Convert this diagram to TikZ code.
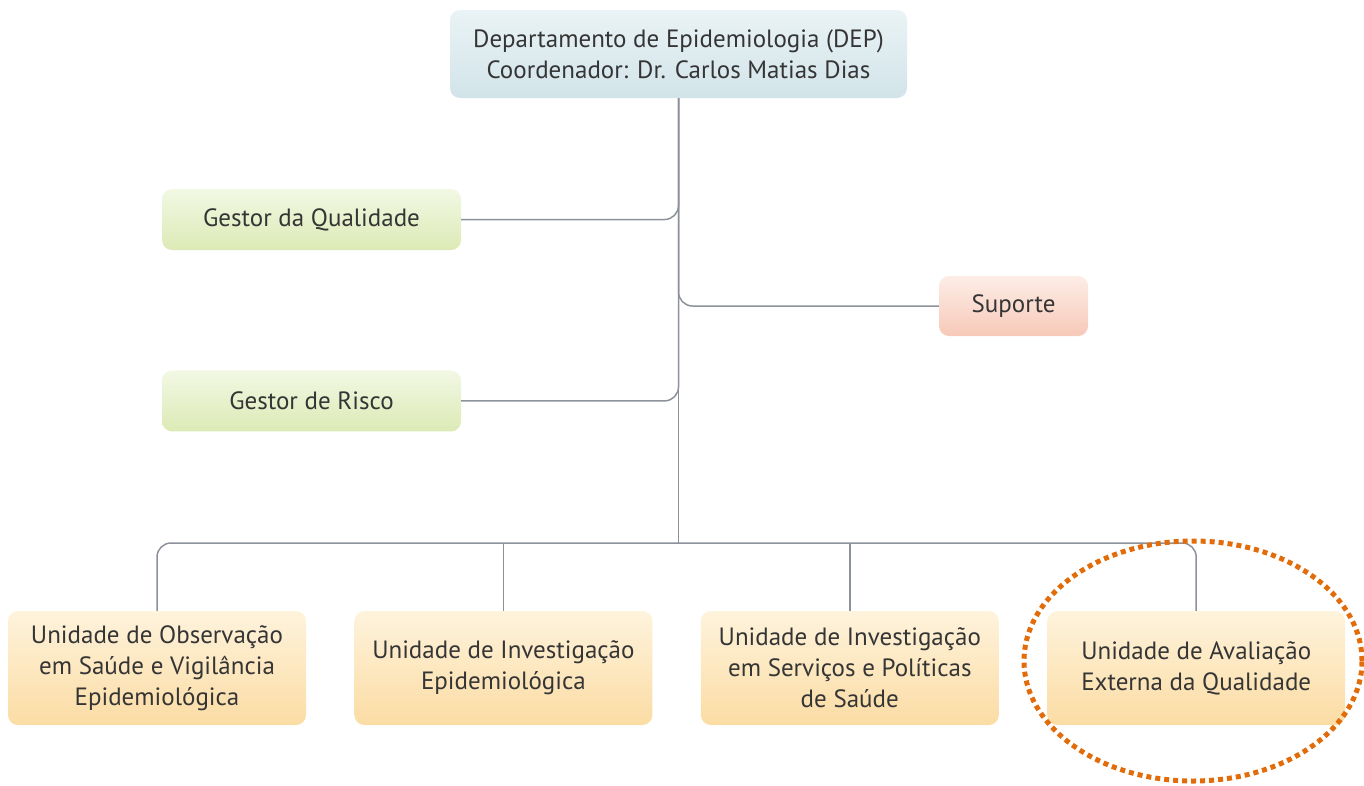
\documentclass[tikz,border=0pt]{standalone}
\usepackage{fontspec}
\setmainfont{PT Sans}
\usetikzlibrary{positioning}
\definecolor{textgray}{HTML}{353535}
\definecolor{linkgray}{HTML}{8C919A}
\definecolor{headtop}{HTML}{EAF3F5}
\definecolor{headbot}{HTML}{D2E4E9}
\definecolor{greentop}{HTML}{F2F8E4}
\definecolor{greenbot}{HTML}{DCEAB5}
\definecolor{pinktop}{HTML}{FDEDE6}
\definecolor{pinkbot}{HTML}{F7C9B8}
\definecolor{unittop}{HTML}{FEF3DC}
\definecolor{unitbot}{HTML}{FBDCA4}
\definecolor{ringorange}{HTML}{E36C0A}

\begin{document}
\begin{tikzpicture}[
  x=1pt, y=-1pt,
  every node/.style={font=\fontsize{25}{31}\selectfont, text=textgray},
  box/.style={
    rectangle, rounded corners=10pt,
    align=center, inner sep=0pt, draw=none,
  },
  head/.style={box, minimum width=457pt, minimum height=88pt,
    top color=headtop, bottom color=headbot},
  staff/.style={box, minimum width=299pt, minimum height=61pt,
    top color=greentop, bottom color=greenbot},
  support/.style={box, minimum width=149pt, minimum height=60pt,
    top color=pinktop, bottom color=pinkbot},
  unit/.style={box, minimum width=298pt, minimum height=114pt,
    top color=unittop, bottom color=unitbot},
  link/.style={draw=linkgray, line width=1.5pt, rounded corners=14pt},
  highlight/.style={draw=ringorange, line width=5pt, dash pattern=on 5pt off 4pt},
]
\useasboundingbox (0,0) rectangle (1364,785);

% Top — department
\node[head] (dep) at (678.5,54) {Departamento de Epidemiologia (DEP)\\Coordenador: Dr. Carlos Matias Dias};

% Side — staff and support
\node[staff] (gq) at (311.5,219.5) {Gestor da Qualidade};
\node[staff, below=120pt of gq] (gr) {Gestor de Risco};
\node[support] (sup) at (1013.5,306) {Suporte};

% Bottom row — units
\node[unit] (u1) at (157,668) {Unidade de Observação\\em Saúde e Vigilância\\Epidemiológica};
\node[unit, right=48pt of u1] (u2) {Unidade de Investigação\\Epidemiológica};
\node[unit, right=48pt of u2] (u3) {Unidade de Investigação\\em Serviços e Políticas\\de Saúde};
\node[unit, right=48pt of u3] (u4) {Unidade de Avaliação\\Externa da Qualidade};

% Trunk and bus
\coordinate (bus) at (678.5,543);
\draw[link] (dep.south) -- (bus);
\draw[link] (gq.east) -| (dep.south);
\draw[link] (gr.east) -| (dep.south);
\draw[link] (sup.west) -| (dep.south);
\draw[link] (u1.north) |- (bus) -| (u4.north);
\draw[link] (u2.north) -- (u2.north |- bus);
\draw[link] (u3.north) -- (u3.north |- bus);

% Highlight ring
\draw[highlight] (1193,661) ellipse [x radius=169pt, y radius=120pt];

\end{tikzpicture}
\end{document}
